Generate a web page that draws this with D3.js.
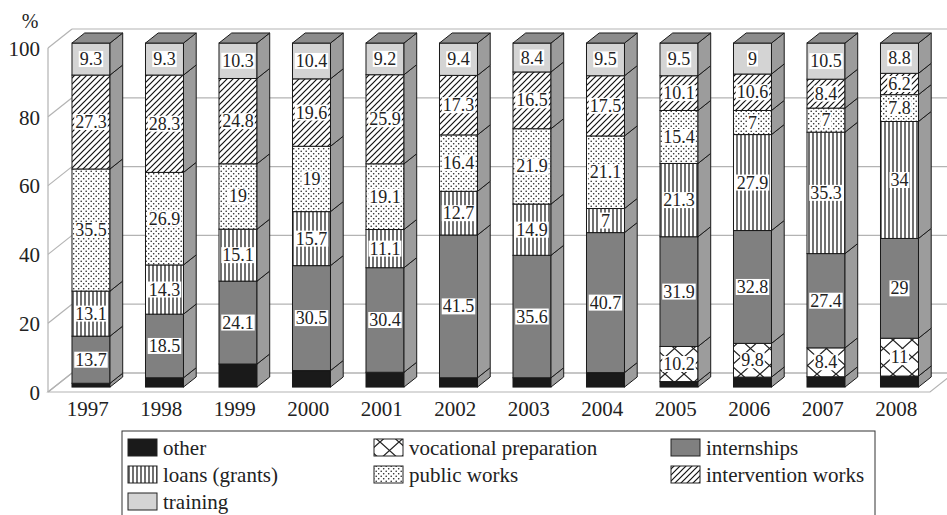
<!DOCTYPE html>
<html><head><meta charset="utf-8">
<script src="https://cdn.jsdelivr.net/npm/d3@7"></script>
<style>
html,body{margin:0;padding:0;background:#fff;}
</style></head>
<body><svg id="c" width="947" height="515"></svg>
<script>
const years = ["1997","1998","1999","2000","2001","2002","2003","2004","2005","2006","2007","2008"];
const other        = [1.1,2.7,6.7,4.8,4.3,2.7,2.7,4.2,1.6,2.9,3,3.2];
const vocational   = [0,0,0,0,0,0,0,0,10.2,9.8,8.4,11];
const internships  = [13.7,18.5,24.1,30.5,30.4,41.5,35.6,40.7,31.9,32.8,27.4,29];
const loans        = [13.1,14.3,15.1,15.7,11.1,12.7,14.9,7,21.3,27.9,35.3,34];
const publicWorks  = [35.5,26.9,19,19,19.1,16.4,21.9,21.1,15.4,7,7,7.8];
const intervention = [27.3,28.3,24.8,19.6,25.9,17.3,16.5,17.5,10.1,10.6,8.4,6.2];
const training     = [9.3,9.3,10.3,10.4,9.2,9.4,8.4,9.5,9.5,9,10.5,8.8];
const seriesNames  = ["other","vocational preparation","internships","loans (grants)","public works","intervention works","training"];
const seriesKeys   = ["other","vocational","internships","loans","publicWorks","intervention","training"];
const seriesData   = [other,vocational,internships,loans,publicWorks,intervention,training];
const yTicks = [0,20,40,60,80,100];
const FONT = "Liberation Serif";

const svg = d3.select("#c");
const defs = svg.append("defs");
function pat(id,w,h,draw){
  const p = defs.append("pattern").attr("id",id).attr("patternUnits","userSpaceOnUse").attr("width",w).attr("height",h);
  p.append("rect").attr("width",w).attr("height",h).attr("fill","#fff");
  draw(p);
}
pat("p-vlines",4,4,p=>p.append("line").attr("x1",1).attr("x2",1).attr("y1",0).attr("y2",4).attr("stroke","#111").attr("stroke-width",1.2));
pat("p-dots",5,5,p=>{
  p.append("circle").attr("cx",1.2).attr("cy",1.2).attr("r",0.8).attr("fill","#222");
  p.append("circle").attr("cx",3.7).attr("cy",3.7).attr("r",0.8).attr("fill","#222");
});
pat("p-diag",6,6,p=>{
  p.append("path").attr("d","M-1,7 L7,-1 M-4,4 L4,-4 M2,10 L10,2").attr("stroke","#111").attr("stroke-width",1.2);
});
pat("p-cross",19,17,p=>{
  p.append("path").attr("d","M0,0 L19,17 M0,17 L19,0").attr("stroke","#222").attr("stroke-width",1.3).attr("fill","none");
});
const fills = {
  other:"#1a1a1a", vocational:"url(#p-cross)", internships:"#808080",
  loans:"url(#p-vlines)", publicWorks:"url(#p-dots)", intervention:"url(#p-diag)", training:"#d4d4d4"
};

const x = d3.scaleBand().domain(years).range([48,930]).paddingInner(0.483).paddingOuter(0.2415);
const y = d3.scaleLinear().domain([0,100]).range([392,48]);
const D = [24,-19];
const off = [D[0]*0.26, D[1]*0.26];
const dep = [D[0]*0.53, D[1]*0.53];
const bw = x.bandwidth();
const grid = "#b3b3b3";

svg.append("path")
  .attr("d",`M${x.range()[0]},${y(0)} L${x.range()[1]},${y(0)} L${x.range()[1]+D[0]},${y(0)+D[1]} L${x.range()[0]+D[0]},${y(0)+D[1]} Z`)
  .attr("fill","#fff").attr("stroke",grid).attr("stroke-width",1.2);
svg.append("g").selectAll("line").data(yTicks).join("line")
  .attr("x1",48+D[0]).attr("x2",960).attr("y1",d=>y(d)+D[1]).attr("y2",d=>y(d)+D[1])
  .attr("stroke",grid).attr("stroke-width",1.2);
svg.append("g").selectAll("line").data(yTicks).join("line")
  .attr("x1",48).attr("x2",48+D[0]).attr("y1",d=>y(d)).attr("y2",d=>y(d)+D[1])
  .attr("stroke",grid).attr("stroke-width",1.2);
svg.append("line").attr("x1",48).attr("x2",48).attr("y1",y(0)).attr("y2",y(100)).attr("stroke",grid).attr("stroke-width",1.2);

svg.append("g").selectAll("text").data(yTicks).join("text")
  .attr("x",40).attr("y",d=>y(d)+3).attr("text-anchor","end").attr("dominant-baseline","middle")
  .attr("font-size",21).attr("fill","#222").style("font-family",FONT).text(d=>d);
svg.append("text").attr("x",30).attr("y",28).attr("text-anchor","middle").attr("font-size",20)
  .attr("fill","#222").style("font-family",FONT).text("%");

const rows = years.map((yr,i)=>{const r={year:yr}; seriesKeys.forEach((k,j)=>r[k]=seriesData[j][i]); return r;});
const stack = d3.stack().keys(seriesKeys)(rows);

const bars = svg.append("g");
const labels = [];
years.forEach((yr,i)=>{
  const g = bars.append("g");
  const fx = x(yr)+off[0];
  stack.forEach((s,j)=>{
    const v0 = s[i][0], v1 = s[i][1];
    if (v1-v0 <= 0) return;
    const yt = y(v1)+off[1], yb = y(v0)+off[1];
    g.append("rect").attr("x",fx).attr("y",yt).attr("width",bw).attr("height",yb-yt)
      .attr("fill",fills[s.key]).attr("stroke","#1a1a1a").attr("stroke-width",1);
    g.append("path")
      .attr("d",`M${fx+bw},${yt} L${fx+bw+dep[0]},${yt+dep[1]} L${fx+bw+dep[0]},${yb+dep[1]} L${fx+bw},${yb} Z`)
      .attr("fill","#9c9c9c").attr("stroke","#1a1a1a").attr("stroke-width",1);
    if (s.key!=="other") labels.push({x:fx+bw/2, y:(yt+yb)/2, t:String(seriesData[j][i])});
  });
  const top = y(100)+off[1];
  g.append("path")
    .attr("d",`M${fx},${top} L${fx+bw},${top} L${fx+bw+dep[0]},${top+dep[1]} L${fx+dep[0]},${top+dep[1]} Z`)
    .attr("fill","#8c8c8c").attr("stroke","#1a1a1a").attr("stroke-width",1);
});

const lg = svg.append("g");
labels.forEach(l=>{
  const gg = lg.append("g");
  const r = gg.append("rect").attr("fill","#fff");
  const t = gg.append("text").attr("x",l.x).attr("y",l.y).attr("text-anchor","middle").attr("dominant-baseline","central")
    .attr("font-size",18).attr("fill","#222").style("font-family",FONT).text(l.t);
  const b = t.node().getBBox();
  r.attr("x",b.x-1).attr("y",b.y+2).attr("width",b.width+2).attr("height",b.height-4);
});

svg.append("g").selectAll("text").data(years).join("text")
  .attr("x",d=>x(d)+bw/2+3).attr("y",409).attr("text-anchor","middle").attr("dominant-baseline","central")
  .attr("font-size",21).attr("fill","#222").style("font-family",FONT).text(d=>d);

const legend = svg.append("g");
legend.append("rect").attr("x",122).attr("y",431).attr("width",753).attr("height",100)
  .attr("fill","#fff").attr("stroke","#333").attr("stroke-width",1);
const colX = [128,374,671];
const rowY = [439,466,493];
seriesKeys.forEach((k,i)=>{
  const c = i%3, r = Math.floor(i/3);
  legend.append("rect").attr("x",colX[c]).attr("y",rowY[r]).attr("width",29).attr("height",17)
    .attr("fill",fills[k]).attr("stroke","#222").attr("stroke-width",1);
  legend.append("text").attr("x",colX[c]+35).attr("y",rowY[r]+16).attr("font-size",21)
    .attr("fill","#222").style("font-family",FONT).text(seriesNames[i]);
});
</script></body></html>
